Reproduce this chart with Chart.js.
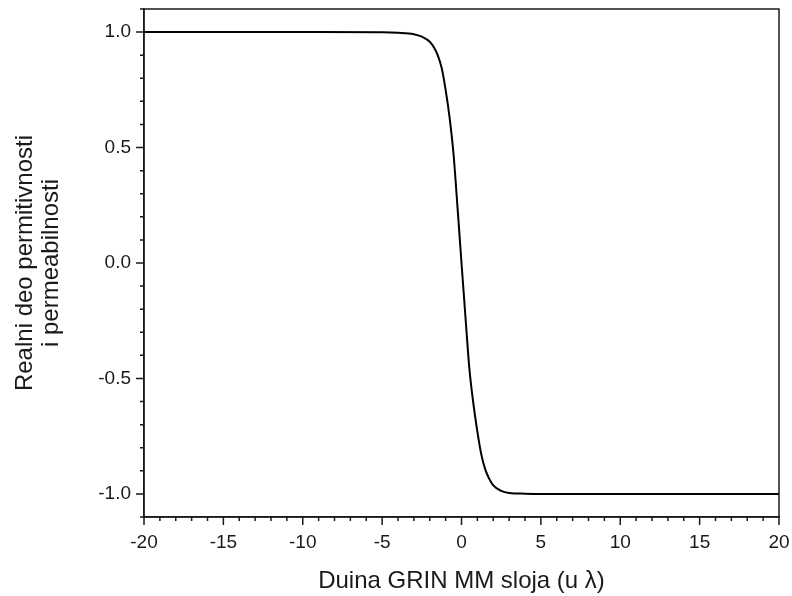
<!DOCTYPE html>
<html>
<head>
<meta charset="utf-8">
<script src="https://cdn.jsdelivr.net/npm/chart.js@4"></script>
<style>
  html, body { margin: 0; padding: 0; background: #fff; }
  #wrap { width: 792px; height: 596px; }
</style>
</head>
<body>
<div id="wrap"><canvas id="grinChart" width="792" height="596"></canvas></div>
<script>
// values
const xPos = [-20, -10, -5, -4, -3, -2.5, -2, -1.75, -1.5, -1.25, -1, -0.75, -0.5, -0.25, 0,
              0.25, 0.5, 0.75, 1, 1.25, 1.5, 1.75, 2, 2.5, 3, 4, 5, 10, 20];
const realPart = [1.0, 1.0, 0.999, 0.997, 0.991, 0.98, 0.958, 0.935, 0.90, 0.845, 0.75, 0.63, 0.47, 0.24, 0,
                  -0.235, -0.46, -0.61, -0.73, -0.83, -0.895, -0.935, -0.963, -0.987, -0.996, -0.999, -1.0, -1.0, -1.0];
const xTickLabels = [-20, -15, -10, -5, 0, 5, 10, 15, 20];
const yTickLabels = [-1.0, -0.5, 0.0, 0.5, 1.0];

const FONT = "'Liberation Sans', Arial, sans-serif";
const INK = '#1a1a1a';

const isMajor = (v, list) => list.some(t => Math.abs(t - v) < 1e-6);

// outward ticks (long for labelled, short for minor) plus the top/right frame
const frameTicks = {
    id: 'frameTicks',
    afterDraw(chart) {
        const { ctx, chartArea: a, scales } = chart;
        ctx.save();
        ctx.strokeStyle = INK;
        ctx.lineWidth = 1.5;
        ctx.strokeRect(a.left, a.top, a.right - a.left, a.bottom - a.top);
        ctx.beginPath();
        scales.x.ticks.forEach(t => {
            const px = scales.x.getPixelForValue(t.value);
            const len = isMajor(t.value, xTickLabels) ? 8 : 4;
            ctx.moveTo(px, a.bottom);
            ctx.lineTo(px, a.bottom + len);
        });
        scales.y.ticks.forEach(t => {
            const py = scales.y.getPixelForValue(t.value);
            const len = isMajor(t.value, yTickLabels) ? 8 : 4;
            ctx.moveTo(a.left, py);
            ctx.lineTo(a.left - len, py);
        });
        ctx.stroke();
        ctx.restore();
    }
};

const ctx = document.getElementById('grinChart').getContext('2d');
new Chart(ctx, {
    type: 'line',
    data: {
        datasets: [{
            data: xPos.map((x, i) => ({ x: x, y: realPart[i] })),
            borderColor: '#000',
            borderWidth: 2,
            pointRadius: 0,
            fill: false,
            cubicInterpolationMode: 'monotone'
        }]
    },
    options: {
        responsive: false,
        animation: false,
        layout: { padding: { left: 0, top: 9, right: 13, bottom: 0 } },
        plugins: { legend: { display: false }, tooltip: { enabled: false } },
        scales: {
            x: {
                type: 'linear', min: -20, max: 20,
                afterFit: s => { s.height = 79; s.paddingLeft = 0; s.paddingRight = 0; },
                grid: { display: true, drawOnChartArea: false, drawTicks: false },
                border: { display: true, color: INK, width: 1.5 },
                ticks: {
                    stepSize: 1, autoSkip: false, maxRotation: 0, padding: 14,
                    color: INK, font: { family: FONT, size: 19 },
                    callback: v => isMajor(v, xTickLabels) ? String(Math.round(v)) : ''
                },
                title: {
                    display: true, text: 'Duina GRIN MM sloja (u λ)',
                    color: INK, font: { family: FONT, size: 24 }, padding: { top: 0, bottom: 0 }
                }
            },
            y: {
                type: 'linear', min: -1.1, max: 1.1,
                afterFit: s => { s.width = 144; s.paddingTop = 0; s.paddingBottom = 0; },
                grid: { display: true, drawOnChartArea: false, drawTicks: false },
                border: { display: true, color: INK, width: 1.5 },
                ticks: {
                    stepSize: 0.1, autoSkip: false, padding: 13,
                    color: INK, font: { family: FONT, size: 19 },
                    callback: v => isMajor(v, yTickLabels) ? v.toFixed(1) : ''
                },
                title: {
                    display: true, text: ['Realni deo permitivnosti', 'i permeabilnosti'],
                    color: INK, font: { family: FONT, size: 24, lineHeight: 1.1 }, padding: { top: 12, bottom: 0 }
                }
            }
        }
    },
    plugins: [frameTicks]
});
</script>
</body>
</html>
